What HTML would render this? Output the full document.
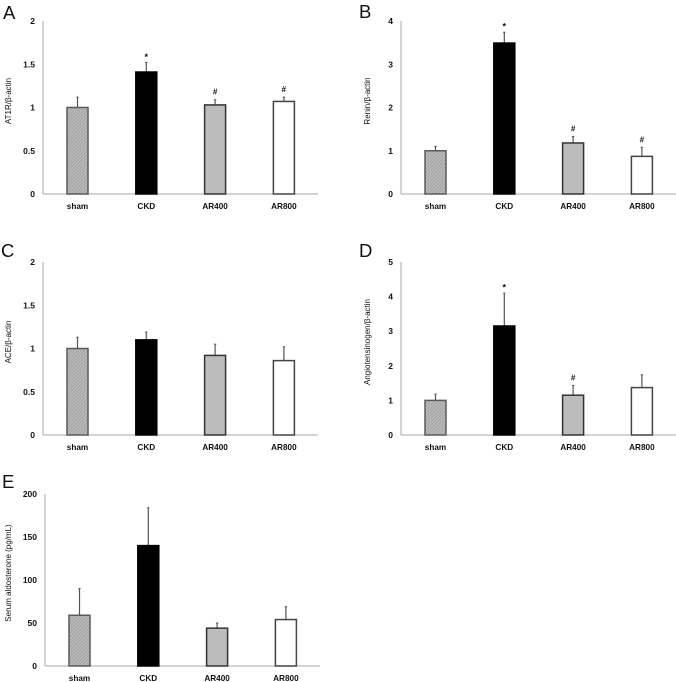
<!DOCTYPE html>
<html>
<head>
<meta charset="utf-8">
<style>
html,body{margin:0;padding:0;background:#fff;width:676px;height:682px;overflow:hidden}
svg{display:block;filter:blur(0.35px)}
text{font-family:"Liberation Sans",sans-serif;fill:#111}
</style>
</head>
<body>
<svg id="fig" xmlns="http://www.w3.org/2000/svg" width="676" height="682" viewBox="0 0 676 682">
<defs>
<pattern id="hatch" patternUnits="userSpaceOnUse" width="2.4" height="2.4" patternTransform="rotate(45)">
<rect width="2.4" height="2.4" fill="#bcbcbc"/>
<rect width="1" height="2.4" fill="#a0a0a0"/>
</pattern>
</defs>
</svg>
<script>
var categories = ["sham", "CKD", "AR400", "AR800"];

var valuesA = [1, 1.41, 1.03, 1.07];
var errorsA = [0.12, 0.11, 0.06, 0.05];
var marksA = ["", "*", "#", "#"];
var ticksA = [0, 0.5, 1, 1.5, 2];

var valuesB = [1, 3.49, 1.18, 0.87];
var errorsB = [0.1, 0.25, 0.15, 0.21];
var marksB = ["", "*", "#", "#"];
var ticksB = [0, 1, 2, 3, 4];

var valuesC = [1, 1.1, 0.92, 0.86];
var errorsC = [0.13, 0.09, 0.13, 0.16];
var marksC = ["", "", "", ""];
var ticksC = [0, 0.5, 1, 1.5, 2];

var valuesD = [1, 3.15, 1.15, 1.37];
var errorsD = [0.18, 0.95, 0.28, 0.37];
var marksD = ["", "*", "#", ""];
var ticksD = [0, 1, 2, 3, 4, 5];

var valuesE = [59, 140, 44, 54];
var errorsE = [31, 44, 6, 15];
var marksE = ["", "", "", ""];
var ticksE = [0, 50, 100, 150, 200];

var svg = document.getElementById('fig');
var NS = 'http://www.w3.org/2000/svg';

function make(tag, attrs, text) {
  var el = document.createElementNS(NS, tag);
  for (var k in attrs) el.setAttribute(k, attrs[k]);
  if (text !== undefined) el.textContent = text;
  svg.appendChild(el);
  return el;
}

var barFills = ['url(#hatch)', '#000000', '#bcbcbc', '#ffffff'];
var barStrokes = ['#5a5a5a', '#000000', '#333333', '#444444'];

function drawPanel(p) {
  var maxVal = p.ticks[p.ticks.length - 1];
  function yScale(v) { return p.bottom - (v / maxVal) * (p.bottom - p.top); }
  function xScale(i) { return p.axisX + 34.5 + i * 68.8; }
  var slug = p.letter.toLowerCase();
  var el;

  el = make('text', {x: p.letterX, y: p.letterY, 'font-size': 18.5}, p.letter);
  
  

  el = make('line', {x1: p.axisX, x2: p.axisX, y1: p.top, y2: p.bottom, stroke: '#c4c4c4', 'stroke-width': 1.5});
  
  

  el = make('line', {x1: p.axisX, x2: p.axisX + 275, y1: p.bottom, y2: p.bottom, stroke: '#a8a8a8', 'stroke-width': 1});
  
  

  p.ticks.forEach(function (t) {
    var tick = make('text', {x: p.axisX - 8, y: yScale(t) + 3, 'font-size': 8.5, 'font-weight': 'bold', 'text-anchor': 'end'}, String(t));
    
    
  });

  var midY = p.titleY;
  el = make('text', {x: p.titleX, y: midY, 'font-size': 8, 'text-anchor': 'middle', transform: 'rotate(-90 ' + p.titleX + ' ' + midY + ')'}, p.title);
  
  

  categories.forEach(function (c, i) {
    var cx = xScale(i);
    var v = p.values[i];
    var topErr = v + p.errors[i];

    var err = make('line', {x1: cx, x2: cx, y1: yScale(v), y2: yScale(topErr), stroke: '#555', 'stroke-width': 1.2});
    
    

    var cap = make('line', {x1: cx - 1.2, x2: cx + 1.2, y1: yScale(topErr), y2: yScale(topErr), stroke: '#555', 'stroke-width': 1});
    
    

    var bar = make('rect', {x: cx - 10.5, y: yScale(v), width: 21, height: p.bottom - yScale(v), fill: barFills[i], stroke: barStrokes[i], 'stroke-width': 1.5});
    
    

    if (p.marks[i]) {
      var markY = p.marks[i] === '*' ? yScale(topErr) - 2.5 : yScale(topErr) - 5;
      var m = make('text', {x: cx, y: markY, 'font-size': p.marks[i] === '*' ? 9 : 8, 'text-anchor': 'middle', 'font-weight': 'bold'}, p.marks[i]);
      
      
    }

    var label = make('text', {x: cx, y: p.bottom + 15, 'font-size': 8.2, 'font-weight': 'bold', 'text-anchor': 'middle'}, c);
    
    
  });
}

drawPanel({letter: 'A', letterX: 3, letterY: 19, axisX: 43, top: 21, bottom: 194, titleX: 11, titleY: 101, title: 'AT1R/β-actin', values: valuesA, errors: errorsA, marks: marksA, ticks: ticksA});
drawPanel({letter: 'B', letterX: 359, letterY: 18, axisX: 401, top: 21, bottom: 194, titleX: 370, titleY: 101, title: 'Renin/β-actin', values: valuesB, errors: errorsB, marks: marksB, ticks: ticksB});
drawPanel({letter: 'C', letterX: 1, letterY: 257, axisX: 43, top: 262, bottom: 435, titleX: 11, titleY: 342, title: 'ACE/β-actin', values: valuesC, errors: errorsC, marks: marksC, ticks: ticksC});
drawPanel({letter: 'D', letterX: 359, letterY: 257, axisX: 401, top: 262, bottom: 435, titleX: 370, titleY: 342, title: 'Angiotensinogen/β-actin', values: valuesD, errors: errorsD, marks: marksD, ticks: ticksD});
drawPanel({letter: 'E', letterX: 2, letterY: 488, axisX: 45, top: 494, bottom: 666, titleX: 11, titleY: 573, title: 'Serum aldosterone (pg/mL)', values: valuesE, errors: errorsE, marks: marksE, ticks: ticksE});
</script>
</body>
</html>
